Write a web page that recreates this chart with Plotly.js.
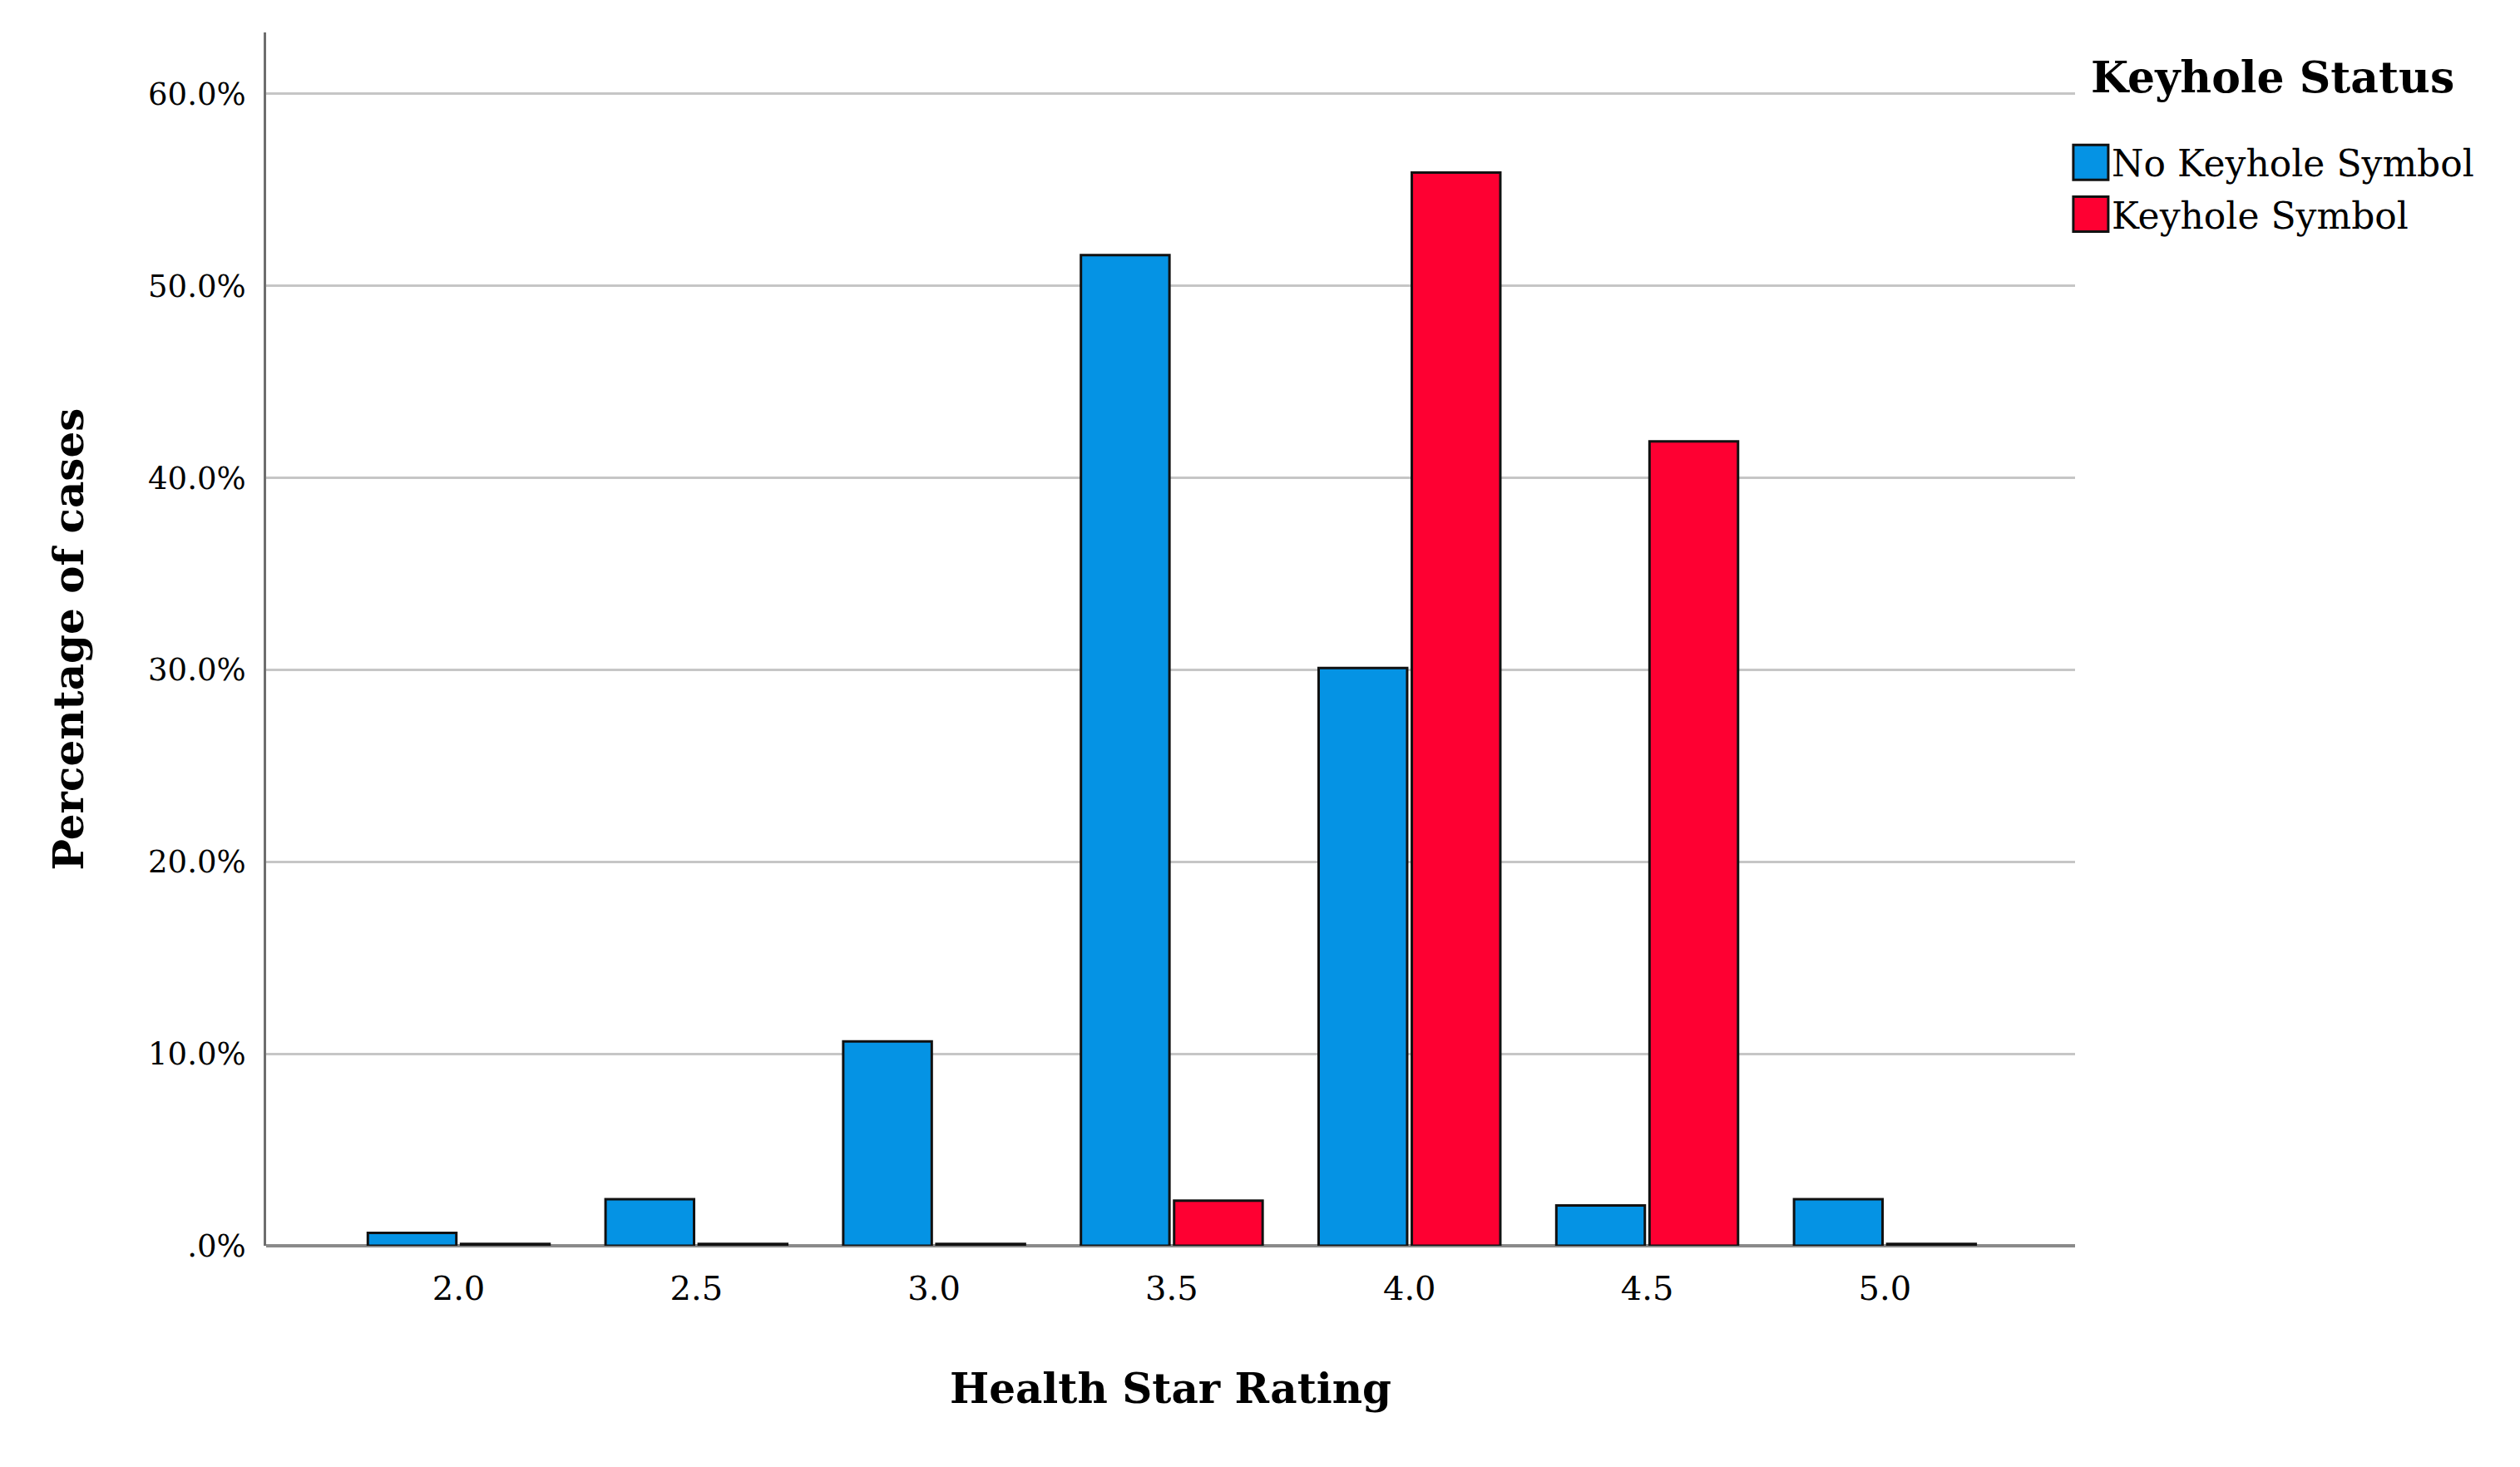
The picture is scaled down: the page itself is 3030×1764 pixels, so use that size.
<!DOCTYPE html>
<html>
<head>
<meta charset="utf-8">
<script src="https://cdn.plot.ly/plotly-3.0.1.min.js"></script>
<style>
  html, body { margin: 0; padding: 0; background: #fff; }
  #chart { width: 3030px; height: 1764px; }
</style>
</head>
<body>
<div id="chart"></div>
<script>
"use strict";

// Health Star Rating categories
const ratings = ["2.0", "2.5", "3.0", "3.5", "4.0", "4.5", "5.0"];

// percentage of cases
// (the flat black bars at the baseline are read as ~0.1%)
const noKeyhole = [0.67, 2.43, 10.65, 51.6, 30.1, 2.1, 2.43];
const keyhole = [0.1, 0.1, 0.1, 2.35, 55.9, 41.9, 0.1];

const yTickValues = [0, 10, 20, 30, 40, 50, 60];
const yTickLabels = [".0%", "10.0%", "20.0%", "30.0%", "40.0%", "50.0%", "60.0%"];

const seriesNames = ["No Keyhole Symbol", "Keyhole Symbol"];
const seriesColors = ["#0593e4", "#fe0032"];

const serif = "DejaVu Serif, Liberation Serif, serif";

const traces = [noKeyhole, keyhole].map((values, i) => ({
    type: "bar",
    name: seriesNames[i],
    legendgroup: `g${i}`,
    x: ratings,
    y: values,
    marker: {
        color: seriesColors[i],
        line: { color: "#111111", width: 3 },
    },
    hoverinfo: "x+y+name",
}));

const layout = {
    width: 3030,
    height: 1764,
    margin: { l: 320, r: 535, t: 39, b: 266 },
    paper_bgcolor: "#ffffff",
    plot_bgcolor: "#ffffff",
    barmode: "group",
    bargap: 0.216,
    bargroupgap: 0.05,
    font: { family: serif, color: "#000000" },
    xaxis: {
        type: "category",
        range: [-0.81, 6.8],
        showgrid: false,
        showline: false,
        zeroline: false,
        ticks: "",
        ticklabelstandoff: 24,
        tickfont: { family: serif, size: 40, color: "#000000" },
        title: {
            text: "Health Star Rating",
            standoff: 80,
            font: { family: serif, size: 50, weight: "bold", color: "#000000" },
        },
    },
    yaxis: {
        range: [0, 63.2],
        tickvals: yTickValues,
        ticktext: yTickLabels,
        ticks: "",
        ticklabelstandoff: 14,
        tickfont: { family: serif, size: 37, color: "#000000" },
        showgrid: true,
        gridcolor: "#c6c6c6",
        gridwidth: 3,
        showline: true,
        linecolor: "#6e6e6e",
        linewidth: 3,
        zeroline: true,
        zerolinecolor: "#8a8a8a",
        zerolinewidth: 4,
        title: {
            text: "Percentage of cases",
            standoff: 62,
            font: { family: serif, size: 50, weight: "bold", color: "#000000" },
        },
    },
    legend: {
        x: 0.9972,
        xanchor: "left",
        y: 0.917,
        yanchor: "top",
        traceorder: "grouped",
        tracegroupgap: 2,
        itemwidth: 40,
        bgcolor: "rgba(0,0,0,0)",
        font: { family: serif, size: 44, color: "#000000" },
    },
    // legend heading, placed separately so its gap to the items matches
    annotations: [{
        text: "Keyhole Status",
        xref: "paper",
        yref: "paper",
        x: 1.0076,
        y: 0.963,
        xanchor: "left",
        yanchor: "middle",
        showarrow: false,
        font: { family: serif, size: 52, weight: "bold", color: "#000000" },
    }],
    showlegend: true,
};

Plotly.newPlot("chart", traces, layout, {
    displayModeBar: false,
    staticPlot: true,
}).then((gd) => {
    // the legend swatches in the original are much larger squares
    gd.querySelectorAll(".legendpoints path").forEach((path) => {
        path.setAttribute("d", "M21,21H-21V-21H21Z");
    });
});
</script>
</body>
</html>
